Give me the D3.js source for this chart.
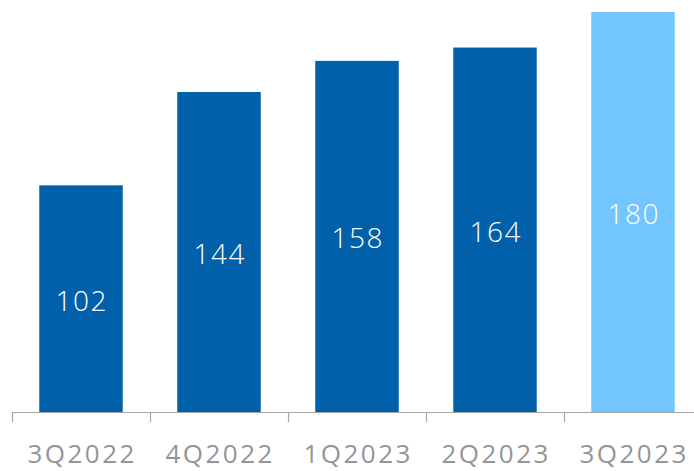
<!DOCTYPE html>
<html>
<head>
<meta charset="utf-8">
<script src="https://cdn.jsdelivr.net/npm/d3@7"></script>
<style>
  html, body { margin: 0; padding: 0; background: #fff; }
  svg { display: block; }
</style>
</head>
<body>
<svg id="chart" width="694" height="471"></svg>
<script>
// Quarterly values
const categories = ["3Q2022", "4Q2022", "1Q2023", "2Q2023", "3Q2023"];
const values = [102, 144, 158, 164, 180];
const highlight = [false, false, false, false, true];

const width = 694, height = 471;
const baseY = 412, topY = 12;

const svg = d3.select("#chart");

const x = d3.scaleBand()
  .domain(categories)
  .range([12, 702])
  .padding(0);

const y = d3.scaleLinear()
  .domain([0, 180])
  .range([baseY, topY]);

const barW = x.bandwidth() * 0.605;

// Bars
svg.append("g").selectAll("rect")
  .data(categories)
  .join("rect")
  .attr("x", (d) => x(d) + (x.bandwidth() - barW) / 2)
  .attr("y", (d, i) => y(values[i]))
  .attr("width", barW)
  .attr("height", (d, i) => y(0) - y(values[i]))
  .attr("fill", (d, i) => highlight[i] ? "#72C5FE" : "#0060A9");

// Value labels inside bars
svg.append("g").selectAll("text")
  .data(categories)
  .join("text")
  .attr("x", (d) => x(d) + x.bandwidth() / 2 + 0.75)
  .attr("y", (d, i) => (y(values[i]) + y(0)) / 2 + 12)
  .attr("text-anchor", "middle")
  .attr("font-family", "Open Sans, sans-serif")
  .attr("font-weight", 300)
  .attr("font-size", 28)
  .attr("letter-spacing", 1.5)
  .attr("fill", "#ffffff")
  .text((d, i) => values[i]);

// Category axis
const axis = svg.append("g")
  .attr("transform", `translate(0,${baseY})`);

axis.append("line")
  .attr("x1", 12).attr("x2", width)
  .attr("y1", 0.5).attr("y2", 0.5)
  .attr("stroke", "#a6a6a6").attr("stroke-width", 1.2);

axis.selectAll("line.tick")
  .data(categories)
  .join("line")
  .attr("class", "tick")
  .attr("x1", (d) => Math.round(x(d)) + 0.5)
  .attr("x2", (d) => Math.round(x(d)) + 0.5)
  .attr("y1", 0).attr("y2", 10)
  .attr("stroke", "#a6a6a6").attr("stroke-width", 1.2);

axis.selectAll("text")
  .data(categories)
  .join("text")
  .attr("x", (d) => x(d) + x.bandwidth() / 2 + 1.2)
  .attr("y", 51)
  .attr("text-anchor", "middle")
  .attr("font-family", "Open Sans, sans-serif")
  .attr("font-size", 26)
  .attr("letter-spacing", 2.5)
  .attr("fill", "#939598")
  .text((d) => d);
</script>
</body>
</html>
